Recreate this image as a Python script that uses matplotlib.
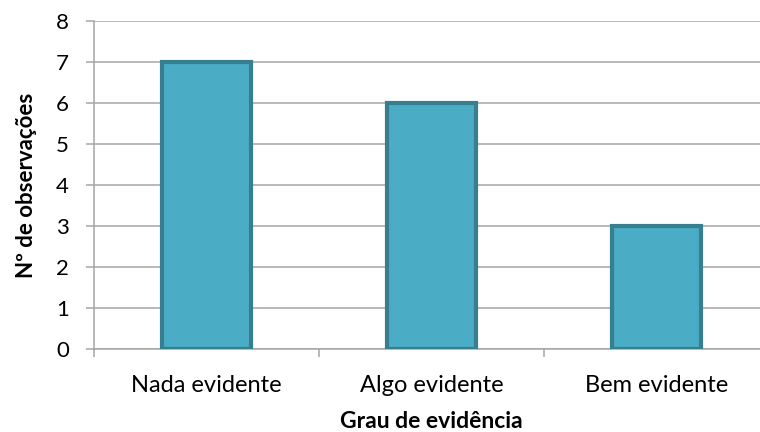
import matplotlib
matplotlib.use('Agg')
import matplotlib.pyplot as plt
import numpy as np

categorias = ['Nada evidente', 'Algo evidente', 'Bem evidente']
observacoes = [7, 6, 3]
yticks = list(range(0, 9))

plt.rcParams['font.family'] = ['Lato', 'DejaVu Sans']

fig = plt.figure(figsize=(7.6, 4.32), dpi=100)
ax = fig.add_axes([94 / 760, 83 / 432, 675 / 760, 328 / 432])

x = np.arange(len(categorias))
ax.bar(x, observacoes, width=0.395, color='#4BACC6', edgecolor='#377E8F',
       linewidth=3.0, zorder=3)

ax.set_xlim(-0.5, len(categorias) - 0.5)
ax.set_ylim(0, 8)
ax.set_yticks(yticks)
ax.set_yticklabels([str(v) for v in yticks], fontsize=16)
ax.yaxis.grid(True, color='#A6A6A6', linewidth=1.1, zorder=0)

# category labels centered, tick marks at the category boundaries
ax.set_xticks(np.arange(-0.5, len(categorias)))
ax.set_xticklabels([])
ax.set_xticks(x, minor=True)
ax.set_xticklabels(categorias, minor=True, fontsize=17)
ax.tick_params(axis='x', which='minor', length=0, pad=19)
ax.tick_params(axis='x', which='major', length=6, color='#A6A6A6', width=1.1)
ax.tick_params(axis='y', length=6, color='#A6A6A6', width=1.1, pad=12)

for s in ['top', 'right']:
    ax.spines[s].set_visible(False)
ax.spines['left'].set_color('#A6A6A6')
ax.spines['bottom'].set_color('#A6A6A6')
ax.spines['left'].set_linewidth(1.1)
ax.spines['bottom'].set_linewidth(1.1)

ax.set_xlabel('Grau de evidência', fontsize=16.5, fontweight='bold', labelpad=10.5)
ax.set_ylabel('Nº de observações', fontsize=16, fontweight='bold', labelpad=14)

fig.savefig('out.png', dpi=100)
